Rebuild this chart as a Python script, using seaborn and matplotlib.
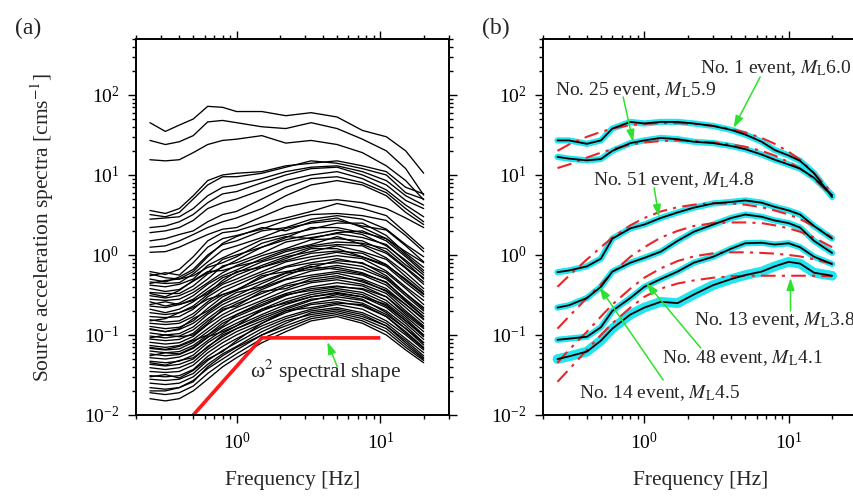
import numpy as np
import pandas as pd
import matplotlib
matplotlib.use("Agg")
import matplotlib.pyplot as plt
import seaborn as sns
from matplotlib.ticker import LogLocator, LogFormatterSciNotation, NullFormatter

# ---------------- data : panel (a) ----------------
freq_a = [0.25, 0.32, 0.4, 0.5, 0.63, 0.8, 1.0, 1.5, 2.2, 3.3, 5.0, 7.5, 11, 15, 20]

top_group = [
    [45, 35, 42, 50, 72, 70, 62, 62, 55, 60, 53, 36, 30, 20, 10.5],
    [27, 24, 26, 31, 46, 48, 45, 40, 38, 45, 38, 28, 20, 12, 5.6],
    [15.5, 15, 15.5, 19, 24, 27, 28, 31, 25, 27, 24, 19, 13, 8.5, 4.9],
]
mid_group = [
    [3.6, 3.3, 3.8, 5.5, 8.5, 10, 10.5, 11, 13, 14, 15, 13, 11, 7, 5.8],
    [3.2, 3.0, 3.4, 5.0, 7.5, 9.5, 9.5, 10.5, 12.5, 15, 14, 12, 10, 6, 5.0],
    [2.8, 2.9, 3.0, 3.8, 5.5, 7.0, 7.5, 9, 11, 12.5, 13, 11, 8.5, 5.5, 4.2],
    [2.2, 2.3, 2.6, 3.2, 4.5, 5.8, 6.2, 8, 10, 12, 12.5, 10, 7.5, 4.8, 3.8],
    [1.9, 2.0, 2.2, 2.7, 3.8, 4.5, 5.0, 6.5, 8.5, 10, 11, 9, 6.5, 4.2, 3.0],
    [1.5, 1.6, 1.8, 2.0, 2.6, 3.2, 3.5, 5, 7, 9, 9.5, 8, 6, 3.8, 2.6],
    [1.25, 1.3, 1.5, 1.8, 2.2, 2.6, 2.9, 3.8, 5.5, 7.5, 8.5, 7.5, 5.5, 3.4, 2.4],
    [1.08, 1.1, 1.25, 1.5, 1.8, 2.1, 2.2, 3, 4, 4.6, 4.9, 4.5, 3.8, 2.9, 2.2],
]
dense_upper = [
    [0.62, 0.57, 0.66, 0.95, 1.5, 1.9, 2.0, 2.5, 2.9, 3.5, 4.4, 3.8, 3.1, 1.9, 1.2],
    [0.55, 0.60, 0.56, 0.80, 1.25, 1.6, 1.75, 2.1, 2.7, 3.2, 3.3, 3.1, 2.7, 1.75, 1.1],
    [0.50, 0.46, 0.53, 0.66, 1.0, 1.35, 1.5, 2.0, 2.2, 2.8, 3.1, 2.8, 2.1, 1.35, 0.95],
    [0.46, 0.44, 0.45, 0.58, 0.82, 1.15, 1.3, 1.65, 2.15, 2.5, 2.7, 2.3, 2.05, 1.3, 0.82],
    [0.42, 0.40, 0.43, 0.50, 0.74, 0.92, 1.1, 1.55, 1.8, 2.1, 2.5, 2.5, 1.75, 1.05, 0.7],
    [0.38, 0.35, 0.37, 0.47, 0.60, 0.88, 1.0, 1.25, 1.65, 2.2, 2.2, 1.9, 1.6, 1.0, 0.64],
    [0.34, 0.33, 0.33, 0.41, 0.58, 0.7, 0.86, 1.25, 1.55, 1.8, 2.05, 1.8, 1.3, 0.86, 0.56],
    [0.31, 0.29, 0.31, 0.37, 0.50, 0.73, 0.8, 1.05, 1.45, 1.65, 1.85, 1.65, 1.35, 0.82, 0.5],
    [0.28, 0.27, 0.28, 0.34, 0.45, 0.6, 0.74, 0.98, 1.2, 1.55, 1.6, 1.5, 1.1, 0.7, 0.46],
    [0.26, 0.23, 0.25, 0.31, 0.43, 0.55, 0.65, 0.9, 1.15, 1.35, 1.7, 1.35, 1.05, 0.68, 0.43],
    [0.23, 0.22, 0.24, 0.28, 0.38, 0.52, 0.6, 0.82, 1.0, 1.25, 1.35, 1.3, 0.92, 0.6, 0.38],
    [0.21, 0.19, 0.21, 0.26, 0.35, 0.45, 0.56, 0.74, 0.95, 1.1, 1.3, 1.1, 0.88, 0.54, 0.35],
    [0.19, 0.18, 0.19, 0.23, 0.32, 0.43, 0.5, 0.7, 0.85, 1.05, 1.12, 1.05, 0.76, 0.48, 0.32],
]
dense_middle = [
    [0.17, 0.165, 0.17, 0.21, 0.30, 0.39, 0.46, 0.62, 0.82, 0.95, 1.08, 0.94, 0.72, 0.45, 0.3],
    [0.155, 0.145, 0.15, 0.185, 0.26, 0.35, 0.42, 0.58, 0.72, 0.88, 0.98, 0.9, 0.63, 0.4, 0.27],
    [0.14, 0.135, 0.14, 0.17, 0.245, 0.32, 0.37, 0.52, 0.7, 0.8, 0.9, 0.78, 0.6, 0.38, 0.24],
    [0.128, 0.12, 0.125, 0.15, 0.215, 0.3, 0.36, 0.47, 0.6, 0.76, 0.8, 0.72, 0.52, 0.33, 0.22],
    [0.117, 0.11, 0.117, 0.14, 0.19, 0.26, 0.31, 0.44, 0.59, 0.66, 0.74, 0.66, 0.5, 0.31, 0.2],
    [0.106, 0.1, 0.104, 0.126, 0.18, 0.24, 0.29, 0.39, 0.5, 0.63, 0.7, 0.6, 0.45, 0.28, 0.185],
    [0.097, 0.092, 0.097, 0.116, 0.16, 0.22, 0.26, 0.37, 0.49, 0.56, 0.62, 0.56, 0.42, 0.26, 0.17],
    [0.089, 0.085, 0.088, 0.105, 0.15, 0.2, 0.245, 0.33, 0.43, 0.53, 0.59, 0.5, 0.38, 0.24, 0.155],
    [0.081, 0.077, 0.08, 0.096, 0.135, 0.18, 0.22, 0.3, 0.41, 0.47, 0.52, 0.48, 0.35, 0.22, 0.14],
    [0.074, 0.07, 0.074, 0.088, 0.12, 0.165, 0.2, 0.27, 0.36, 0.45, 0.49, 0.43, 0.33, 0.2, 0.13],
    [0.068, 0.065, 0.067, 0.081, 0.11, 0.15, 0.18, 0.255, 0.33, 0.4, 0.45, 0.41, 0.3, 0.19, 0.125],
    [0.063, 0.06, 0.062, 0.074, 0.1, 0.14, 0.17, 0.23, 0.31, 0.38, 0.41, 0.37, 0.27, 0.17, 0.11],
    [0.058, 0.055, 0.057, 0.068, 0.093, 0.125, 0.155, 0.21, 0.28, 0.34, 0.38, 0.34, 0.25, 0.16, 0.1],
]
dense_lower = [
    [0.052, 0.05, 0.053, 0.062, 0.085, 0.115, 0.14, 0.2, 0.26, 0.32, 0.36, 0.32, 0.23, 0.15, 0.095],
    [0.047, 0.045, 0.047, 0.056, 0.08, 0.105, 0.13, 0.18, 0.24, 0.3, 0.34, 0.3, 0.22, 0.14, 0.088],
    [0.043, 0.041, 0.043, 0.05, 0.072, 0.095, 0.12, 0.17, 0.22, 0.28, 0.3, 0.27, 0.2, 0.13, 0.08],
    [0.039, 0.037, 0.039, 0.046, 0.066, 0.088, 0.11, 0.15, 0.2, 0.25, 0.28, 0.25, 0.18, 0.12, 0.075],
    [0.035, 0.034, 0.035, 0.042, 0.06, 0.08, 0.1, 0.14, 0.19, 0.24, 0.26, 0.23, 0.17, 0.11, 0.07],
    [0.031, 0.03, 0.031, 0.037, 0.054, 0.072, 0.09, 0.13, 0.17, 0.21, 0.24, 0.21, 0.15, 0.1, 0.065],
    [0.028, 0.027, 0.028, 0.033, 0.048, 0.064, 0.08, 0.12, 0.16, 0.2, 0.22, 0.19, 0.14, 0.09, 0.06],
    [0.025, 0.024, 0.025, 0.03, 0.043, 0.058, 0.072, 0.11, 0.15, 0.18, 0.2, 0.17, 0.13, 0.085, 0.055],
    [0.022, 0.021, 0.022, 0.027, 0.038, 0.05, 0.065, 0.1, 0.13, 0.17, 0.19, 0.16, 0.12, 0.075, 0.05],
    [0.019, 0.018, 0.019, 0.023, 0.033, 0.045, 0.058, 0.09, 0.12, 0.16, 0.18, 0.15, 0.11, 0.07, 0.048],
    [0.016, 0.015, 0.016, 0.02, 0.028, 0.04, 0.052, 0.08, 0.11, 0.15, 0.17, 0.14, 0.1, 0.065, 0.045],
]
dense_extra = [
    [0.58, 0.52, 0.5, 0.62, 0.95, 1.4, 1.7, 2.2, 2.0, 2.6, 2.9, 2.2, 1.6, 1.1, 0.8],
    [0.44, 0.48, 0.5, 0.55, 0.7, 0.8, 0.95, 1.4, 1.7, 1.6, 1.9, 2.0, 1.5, 0.95, 0.6],
    [0.33, 0.3, 0.36, 0.48, 0.62, 0.64, 0.72, 0.85, 1.1, 1.3, 1.45, 1.4, 1.2, 0.75, 0.52],
    [0.24, 0.26, 0.24, 0.27, 0.33, 0.48, 0.62, 0.7, 0.9, 1.2, 1.2, 0.95, 0.75, 0.5, 0.33],
    [0.15, 0.16, 0.19, 0.22, 0.28, 0.32, 0.36, 0.55, 0.62, 0.7, 0.85, 0.8, 0.55, 0.33, 0.21],
    [0.12, 0.11, 0.12, 0.16, 0.2, 0.27, 0.34, 0.4, 0.55, 0.72, 0.66, 0.58, 0.46, 0.27, 0.17],
    [0.092, 0.1, 0.095, 0.1, 0.14, 0.21, 0.23, 0.35, 0.38, 0.5, 0.55, 0.46, 0.36, 0.24, 0.16],
    [0.07, 0.066, 0.072, 0.085, 0.1, 0.13, 0.18, 0.24, 0.32, 0.36, 0.4, 0.38, 0.3, 0.18, 0.12],
    [0.055, 0.06, 0.058, 0.07, 0.095, 0.11, 0.13, 0.21, 0.25, 0.3, 0.33, 0.3, 0.24, 0.15, 0.1],
    [0.045, 0.042, 0.048, 0.052, 0.07, 0.1, 0.12, 0.16, 0.21, 0.27, 0.32, 0.28, 0.19, 0.12, 0.08],
    [0.03, 0.032, 0.029, 0.036, 0.05, 0.062, 0.085, 0.14, 0.2, 0.22, 0.25, 0.24, 0.17, 0.105, 0.068],
    [0.02, 0.02, 0.022, 0.026, 0.04, 0.055, 0.07, 0.1, 0.14, 0.19, 0.21, 0.18, 0.13, 0.08, 0.052],
]
omega2_freq = [0.5, 1.5, 10.0]
omega2_amp = [0.01, 0.092, 0.092]

# ---------------- data : panel (b) ----------------
freq_b = [0.25, 0.3, 0.4, 0.5, 0.6, 0.8, 1.0, 1.3, 1.7, 2.2, 3.0, 4.0, 5.0, 6.5, 8.0, 10, 12, 15, 20]

ev1_obs = [27, 27, 24.5, 27, 38, 46, 44, 46, 46, 44, 41, 36.5, 32, 26, 20.5, 17.5, 15, 10.5, 5.3]
ev1_model = [20, 24, 30, 34.5, 38, 42, 43.5, 44.5, 44.5, 43.5, 41, 37.5, 34, 29, 24.5, 19.5, 15.5, 10.5, 6.0]
ev25_obs = [16.8, 16, 15.2, 15.8, 20, 25, 27, 29, 28, 26, 25, 23, 21, 18, 15.5, 13.5, 12, 9.2, 5.6]
ev25_model = [12.2, 13.5, 16.5, 19, 21, 24, 25.5, 26.5, 27, 26.5, 25.5, 24, 22.5, 20, 17.5, 14.5, 12, 9.0, 5.4]
ev51_obs = [0.61, 0.64, 0.72, 0.9, 1.6, 2.15, 2.4, 2.9, 3.4, 3.9, 4.4, 4.6, 4.8, 4.5, 4.0, 3.6, 3.2, 2.3, 1.6]
ev51_model = [0.40, 0.55, 0.88, 1.25, 1.65, 2.35, 2.9, 3.5, 3.95, 4.25, 4.45, 4.4, 4.25, 3.95, 3.6, 3.2, 2.8, 2.3, 1.65]
ev14_obs = [0.22, 0.235, 0.29, 0.4, 0.62, 0.8, 0.92, 1.1, 1.5, 1.95, 2.4, 2.9, 3.2, 3.0, 2.7, 2.5, 2.2, 1.5, 1.06]
ev14_model = [0.12, 0.17, 0.29, 0.43, 0.6, 0.95, 1.25, 1.65, 2.0, 2.3, 2.5, 2.55, 2.55, 2.5, 2.35, 2.15, 1.95, 1.65, 1.25]
ev48_obs = [0.087, 0.09, 0.095, 0.125, 0.2, 0.29, 0.4, 0.5, 0.62, 0.8, 0.95, 1.2, 1.4, 1.42, 1.35, 1.4, 1.25, 0.95, 0.77]
ev48_model = [0.045, 0.065, 0.11, 0.17, 0.24, 0.38, 0.52, 0.68, 0.84, 0.96, 1.05, 1.08, 1.08, 1.06, 1.04, 1.0, 0.96, 0.88, 0.78]
ev13_obs = [0.05, 0.054, 0.062, 0.085, 0.12, 0.18, 0.22, 0.26, 0.25, 0.32, 0.42, 0.5, 0.56, 0.62, 0.72, 0.82, 0.78, 0.6, 0.55]
ev13_model = [0.026, 0.037, 0.065, 0.1, 0.14, 0.22, 0.3, 0.38, 0.44, 0.48, 0.52, 0.54, 0.55, 0.55, 0.55, 0.55, 0.55, 0.55, 0.54]

# ---------------- styling ----------------
sns.set_theme(style="ticks")
plt.rcParams["font.family"] = ["Liberation Serif", "DejaVu Serif"]
plt.rcParams["mathtext.fontset"] = "stix"
plt.rcParams["axes.unicode_minus"] = False

W, H = 854, 497
fig = plt.figure(figsize=(W / 100, H / 100), dpi=100)
fig.patch.set_facecolor("white")
axa = fig.add_axes([136 / W, (H - 415) / H, (449 - 136) / W, (415 - 39) / H])
axb = fig.add_axes([543.5 / W, (H - 415) / H, (857.5 - 543.5) / W, (415 - 39) / H])

GREEN = "#2fe02f"
RED = "#e8262a"
CYAN = "#22e5f0"

# ---- panel (a) ----
rows = []
cid = 0
for group in (top_group, mid_group, dense_upper, dense_middle, dense_lower, dense_extra):
    for curve in group:
        for f, v in zip(freq_a, curve):
            rows.append((cid, f, v))
        cid += 1
df_a = pd.DataFrame(rows, columns=["curve", "freq", "amp"])
sns.lineplot(data=df_a, x="freq", y="amp", units="curve", estimator=None,
             color="black", lw=0.95, ax=axa, legend=False)
sns.lineplot(x=omega2_freq, y=omega2_amp, color="#ff1a1a", lw=2.6, ax=axa,
             estimator=None, solid_capstyle="butt")

axa.text(1.25, 0.029, "ω$^{2}$ spectral shape", fontsize=15.5, ha="left", va="baseline")
axa.annotate("", xy=(4.28, 0.0818), xytext=(5.02, 0.040),
             arrowprops=dict(arrowstyle="-|>,head_length=0.6,head_width=0.2",
                             color=GREEN, lw=1.1, shrinkA=0, shrinkB=0))

# ---- panel (b) ----
events = [
    (ev1_obs, ev1_model, 4.5),
    (ev25_obs, ev25_model, 4.5),
    (ev51_obs, ev51_model, 4.5),
    (ev14_obs, ev14_model, 4.5),
    (ev48_obs, ev48_model, 4.5),
    (ev13_obs, ev13_model, 7.0),
]
for obs, model, cw in events:
    sns.lineplot(x=freq_b, y=obs, color=CYAN, lw=cw, ax=axb, estimator=None)
for obs, model, cw in events:
    sns.lineplot(x=freq_b, y=model, color=RED, lw=1.5, ax=axb, estimator=None,
                 linestyle=(0, (7, 3, 1.5, 3)))
for obs, model, cw in events:
    sns.lineplot(x=freq_b, y=obs, color="black", lw=1.3, ax=axb, estimator=None)

ann_fs = 14
labels_b = [
    ("No. 1 event, $M_{\\mathrm{L}}$6.0", (2.42, 188), (6.35, 168), (4.15, 38.7)),
    ("No. 25 event, $M_{\\mathrm{L}}$5.9", (0.242, 100), (0.713, 94.4), (0.836, 25.9)),
    ("No. 51 event, $M_{\\mathrm{L}}$4.8", (0.443, 7.5), (1.17, 6.9), (1.26, 2.99)),
    ("No. 13 event, $M_{\\mathrm{L}}$3.8", (2.2, 0.133), (10.3, 0.2), (10.3, 0.516)),
    ("No. 48 event, $M_{\\mathrm{L}}$4.1", (1.32, 0.0447), (2.46, 0.0688), (1.03, 0.447)),
    ("No. 14 event, $M_{\\mathrm{L}}$4.5", (0.354, 0.0163), (1.35, 0.0274), (0.487, 0.398)),
]
for txt, tpos, tail, head in labels_b:
    axb.text(tpos[0], tpos[1], txt, fontsize=ann_fs, ha="left", va="baseline", clip_on=False)
    axb.annotate("", xy=head, xytext=tail, annotation_clip=False,
                 arrowprops=dict(arrowstyle="-|>,head_length=0.6,head_width=0.2",
                                 color=GREEN, lw=1.1, shrinkA=0, shrinkB=0))

# ---- axes formatting ----
for ax in (axa, axb):
    ax.set_xscale("log")
    ax.set_yscale("log")
    ax.set_xlim(0.2, 30)
    ax.set_ylim(0.01, 500)
    ax.set_facecolor("white")
    ax.xaxis.set_major_locator(LogLocator(base=10, numticks=10))
    ax.xaxis.set_minor_locator(LogLocator(base=10, subs=np.arange(2, 10), numticks=30))
    ax.yaxis.set_major_locator(LogLocator(base=10, numticks=10))
    ax.yaxis.set_minor_locator(LogLocator(base=10, subs=np.arange(2, 10), numticks=30))
    ax.xaxis.set_major_formatter(LogFormatterSciNotation())
    ax.yaxis.set_major_formatter(LogFormatterSciNotation())
    ax.xaxis.set_minor_formatter(NullFormatter())
    ax.yaxis.set_minor_formatter(NullFormatter())
    ax.tick_params(which="both", direction="out", top=True, right=True,
                   labeltop=False, labelright=False, colors="black", width=1.0)
    ax.tick_params(which="major", length=6, pad=6, labelsize=14)
    ax.tick_params(which="minor", length=3.2)
    for s in ax.spines.values():
        s.set_visible(True)
        s.set_linewidth(1.4)
        s.set_color("black")
    ax.set_xlabel("Frequency [Hz]", fontsize=15.5)
    ax.xaxis.set_label_coords(0.5, -0.148)
    ax.set_ylabel("")

axa.set_ylabel("Source acceleration spectra [cms$^{-1}$]", fontsize=15.5)
axa.yaxis.set_label_coords(-0.255, 0.5)

fig.text(15 / W, 1 - 34 / H, "(a)", fontsize=17, ha="left", va="baseline")
fig.text(482 / W, 1 - 34 / H, "(b)", fontsize=17, ha="left", va="baseline")

fig.savefig("out.png", dpi=100, facecolor="white")
